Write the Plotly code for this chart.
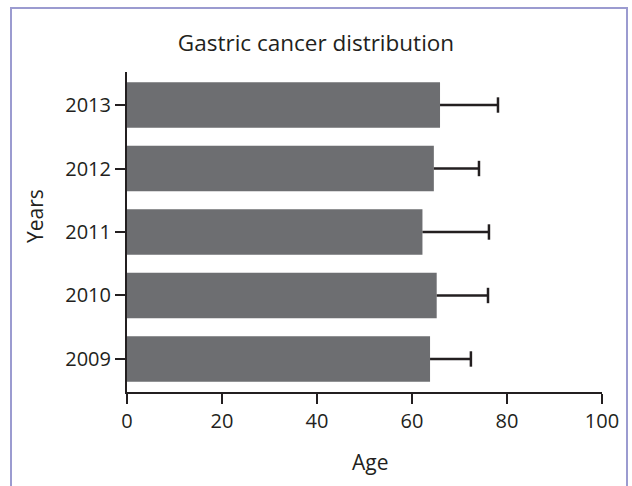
import plotly.graph_objects as go

years = [2009, 2010, 2011, 2012, 2013]
mean_age = [63.8, 65.2, 62.2, 64.6, 65.9]
sd_age = [8.6, 10.8, 14.0, 9.5, 12.2]
x_ticks = [0, 20, 40, 60, 80, 100]

FONT = "Open Sans, Noto Sans, DejaVu Sans, sans-serif"
BAR_COLOR = "#6d6e71"
INK = "#231f20"

fig = go.Figure()
fig.add_trace(go.Bar(
    x=mean_age, y=years, orientation="h", width=0.72,
    marker=dict(color=BAR_COLOR, line=dict(width=0)),
    showlegend=False, hoverinfo="skip",
))

# error whiskers (right side only)
ex, ey = [], []
for v, s, yr in zip(mean_age, sd_age, years):
    ex += [v, v + s, None]
    ey += [yr, yr, None]
fig.add_trace(go.Scatter(
    x=ex, y=ey, mode="lines", line=dict(color=INK, width=2.5),
    showlegend=False, hoverinfo="skip",
))
fig.add_trace(go.Scatter(
    x=[v + s for v, s in zip(mean_age, sd_age)], y=years, mode="markers",
    marker=dict(symbol="line-ns", size=11, line=dict(color=INK, width=2.5)),
    showlegend=False, hoverinfo="skip",
))

L, R, T, B = 127, 30, 72, 94
W, H = 632, 486
pw, ph = W - L - R, H - T - B

def px(xp):
    return (xp - L) / pw

def py(yp):
    return (H - B - yp) / ph

fig.update_layout(
    width=W, height=H,
    margin=dict(l=L, r=R, t=T, b=B),
    paper_bgcolor="white", plot_bgcolor="white",
    font=dict(family=FONT, size=20, color=INK),
    title=dict(text="Gastric cancer distribution", x=0.5, xanchor="center",
               y=1 - 43 / H, yanchor="middle", font=dict(size=22.5)),
    xaxis=dict(range=[0, 100], tickvals=x_ticks, ticks="outside", ticklen=10,
               tickwidth=2, tickcolor=INK, showline=True, linewidth=2,
               linecolor=INK, showgrid=False, zeroline=False, fixedrange=True),
    yaxis=dict(range=[2008.48, 2013.52], tickvals=years,
               ticktext=[str(y) for y in years], ticks="outside", ticklen=10,
               tickwidth=2, tickcolor=INK, showline=True, linewidth=2,
               linecolor=INK, showgrid=False, zeroline=False, fixedrange=True),
    annotations=[
        dict(text="Age", xref="paper", yref="paper", x=px(370), y=py(462),
             xanchor="center", yanchor="middle", showarrow=False,
             font=dict(size=21)),
        dict(text="Years", xref="paper", yref="paper", x=px(35), y=py(216),
             xanchor="center", yanchor="middle", showarrow=False, textangle=-90,
             font=dict(size=21)),
    ],
    shapes=[dict(type="rect", xref="paper", yref="paper",
                 x0=px(11), x1=px(627), y0=py(H + 20), y1=py(8),
                 line=dict(color="#9b9bd0", width=2), fillcolor="rgba(0,0,0,0)",
                 layer="below")],
)

fig.write_html("out.html", config={"displayModeBar": False},
               post_script="document.body.style.margin='0';")
